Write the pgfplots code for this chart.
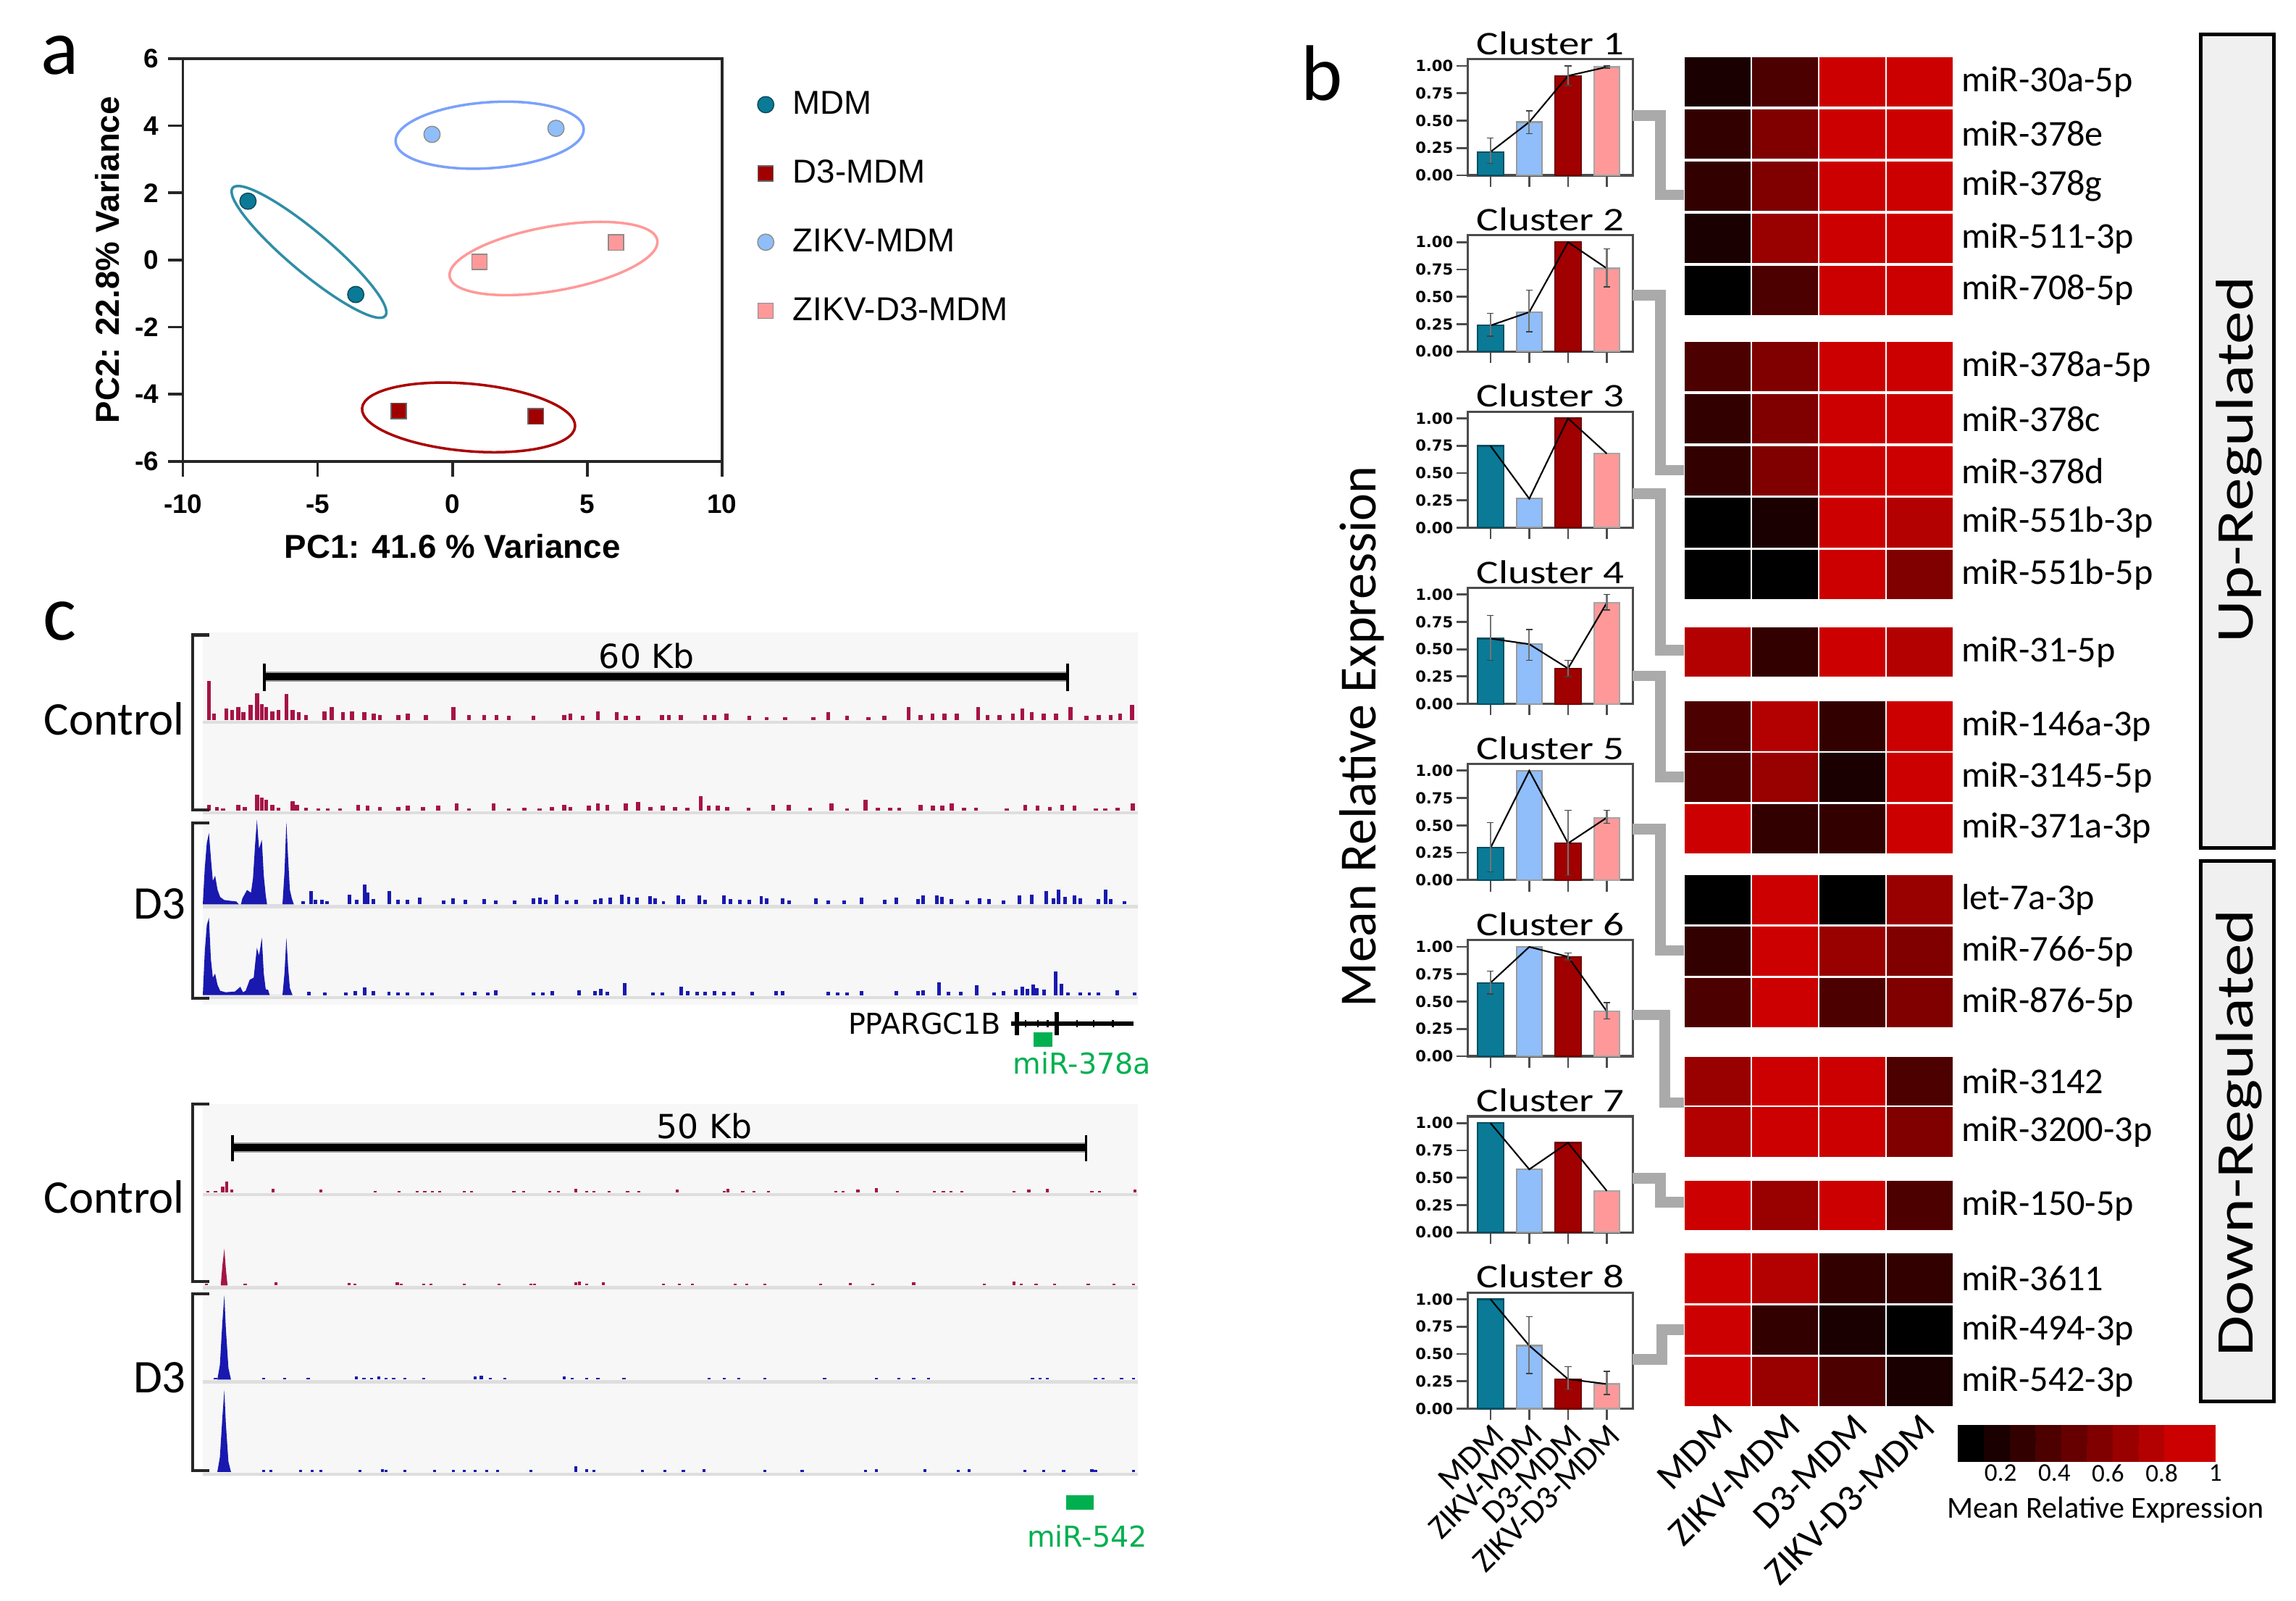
\documentclass[border=0pt]{standalone}
\usepackage{pgfplots}
\pgfplotsset{compat=1.18}
\usepackage{fontspec}
\setmainfont{Carlito}
\newfontfamily\arial{Liberation Sans}
\newfontfamily\dejavu{DejaVu Sans}
\newfontfamily\calw[FakeStretch=1.25]{Carlito}
\newcommand\fs[1]{\fontsize{#1}{#1}\selectfont}
\def\px{0.02022cm}

\definecolor{cM}{RGB}{10,122,150}
\definecolor{cZ}{RGB}{143,190,250}
\definecolor{cD}{RGB}{160,0,0}
\definecolor{cP}{RGB}{255,153,153}
\definecolor{ctrl}{RGB}{165,20,70}
\definecolor{dthree}{RGB}{25,25,175}
\definecolor{mirg}{RGB}{0,176,80}
\definecolor{conn}{RGB}{170,170,170}

\pgfplotsset{
  clus/.style={scale only axis, width=2.285cm, height=1.603cm, anchor=north west,
    xmin=0.41, xmax=4.68, ymin=0, ymax=1.062,
    xtick={1,2,3,4}, xticklabels={}, ytick={0,0.25,0.5,0.75,1},
    yticklabels={0.00,0.25,0.50,0.75,1.00},
    tick pos=left, tick align=outside, major tick length=4.5pt,
    axis line style={black!70, line width=0.9pt}, tick style={black!70, line width=0.8pt},
    yticklabel style={font=\dejavu\bfseries\fs{6}, inner sep=1pt},
    title style={font=\calw\fs{13}, inner sep=0pt, yshift=-4.5pt},
    clip=false},
  bM/.style={ybar, bar shift=0pt, bar width=0.665, fill=cM, draw=cM!65!black, line width=0.6pt},
  bZ/.style={ybar, bar shift=0pt, bar width=0.665, fill=cZ, draw=black!40, line width=0.6pt},
  bD/.style={ybar, bar shift=0pt, bar width=0.665, fill=cD, draw=cD!70!black, line width=0.6pt},
  bP/.style={ybar, bar shift=0pt, bar width=0.665, fill=cP, draw=black!35, line width=0.6pt},
  eline/.style={black, line width=0.6pt, mark=none, error bars/.cd, y dir=both, y explicit,
    error bar style={black!55, line width=0.6pt},
    error mark options={rotate=90, black!75, mark size=1.3pt}},
  trk/.style={scale only axis, width=12.878cm, height=1.213cm, anchor=south west,
    ymin=0, ymax=60, xmin=0, hide axis, clip=false},
  trkA/.style={trk, xmax=69.65},
  trkB/.style={trk, xmax=54.62},
  spC/.style={ycomb, draw=ctrl, line width=1.6pt},
  spc/.style={ycomb, draw=ctrl, line width=1.2pt},
  spD/.style={ycomb, draw=dthree, line width=1.4pt},
  spd/.style={ycomb, draw=dthree, line width=1.2pt},
}
\newcommand\bars[4]{%
  \addplot[bM] coordinates {(1,#1)};
  \addplot[bZ] coordinates {(2,#2)};
  \addplot[bD] coordinates {(3,#3)};
  \addplot[bP] coordinates {(4,#4)};}

\begin{document}
\begin{tikzpicture}
% backgrounds of the genome tracks
\begin{scope}[x=\px,y=-\px]
\path[use as bounding box] (0,0) rectangle (1568,1093);
\fill[black!3] (138.5,432) rectangle (777,686);
\fill[black!3] (138.5,754) rectangle (777,1008);
\foreach \b in {491.6,553.5,617.5,679.5,814.3,877.7,942,1005}
  \draw[black!13, line width=1.2pt] (138.5,\b+1.5) -- (777,\b+1.5);
\end{scope}

% ---------- panel a: PCA ----------
\begin{axis}[scale only axis, width=7.441cm, height=5.561cm,
  at={(125*\px,-315*\px)}, anchor=south west,
  xmin=-10, xmax=10, ymin=-6, ymax=6,
  xtick={-10,-5,0,5,10}, xticklabels={-10,-5,0,5,10},
  ytick={-6,-4,-2,0,2,4,6}, yticklabels={-6,-4,-2,0,2,4,6},
  tick pos=left, tick align=outside, major tick length=6pt,
  axis line style={black!85, line width=1pt}, tick style={black!85, line width=1pt},
  ticklabel style={font=\arial\bfseries\fs{10.5}},
  xticklabel style={yshift=-3.5pt},
  xlabel={PC1: 41.6 \% Variance}, ylabel={PC2: 22.8\% Variance},
  label style={font=\arial\bfseries\fs{13}},
  xlabel style={at={(axis description cs:0.5,-0.211)}, anchor=center},
  ylabel style={at={(axis description cs:-0.141,0.5)}, anchor=center},
  legend style={draw=none, fill=none, at={(1.051,0.945)}, anchor=north west,
    font=\arial\fs{13}, row sep=12.5pt,
    /tikz/every odd column/.append style={column sep=5.5pt}},
  legend cell align=left, clip=false]
\addplot[only marks, mark=*, mark size=3.2pt, mark options={fill=cM, draw=cM!60!black}]
  coordinates {(-7.59,1.75) (-3.59,-1.03)};
\addlegendentry{MDM}
\addplot[only marks, mark=square*, mark size=3pt, mark options={fill=cD, draw=black!60}]
  coordinates {(-2.0,-4.5) (3.09,-4.66)};
\addlegendentry{D3-MDM}
\addplot[only marks, mark=*, mark size=3.2pt, mark options={fill=cZ, draw=black!45}]
  coordinates {(-0.76,3.74) (3.84,3.92)};
\addlegendentry{ZIKV-MDM}
\addplot[only marks, mark=square*, mark size=3pt, mark options={fill=cP, draw=black!45}]
  coordinates {(1.0,-0.06) (6.07,0.52)};
\addlegendentry{ZIKV-D3-MDM}
\end{axis}

% ---------- panel b: cluster profiles ----------
\begin{axis}[clus, at={(1002.3*\px,-40.4*\px)}, title={Cluster 1}]
\bars{0.214}{0.487}{0.91}{0.99}
\addplot[eline] coordinates {(1,0.214) += (0,0.126) -= (0,0.104) (2,0.487) += (0,0.103) -= (0,0.107)
  (3,0.91) += (0,0.09) -= (0,0.09) (4,0.99) += (0,0.01) -= (0,0.01)};
\end{axis}
\begin{axis}[clus, at={(1002.3*\px,-160.7*\px)}, title={Cluster 2}]
\bars{0.238}{0.36}{1.0}{0.76}
\addplot[eline] coordinates {(1,0.238) += (0,0.112) -= (0,0.098) (2,0.36) += (0,0.2) -= (0,0.18)
  (3,1.0) (4,0.76) += (0,0.18) -= (0,0.17)};
\end{axis}
\begin{axis}[clus, at={(1002.3*\px,-281.0*\px)}, title={Cluster 3}]
\bars{0.748}{0.265}{1.0}{0.677}
\addplot[eline] coordinates {(1,0.748) (2,0.265) (3,1.0) (4,0.677)};
\end{axis}
\begin{axis}[clus, at={(1002.3*\px,-401.3*\px)}, title={Cluster 4}]
\bars{0.597}{0.546}{0.324}{0.924}
\addplot[eline] coordinates {(1,0.597) += (0,0.213) -= (0,0.197) (2,0.546) += (0,0.134) -= (0,0.146)
  (3,0.324) += (0,0.076) -= (0,0.074) (4,0.924) += (0,0.076) -= (0,0.064)};
\end{axis}
\begin{axis}[clus, at={(1002.3*\px,-521.6*\px)}, title={Cluster 5}]
\bars{0.294}{1.0}{0.336}{0.571}
\addplot[eline] coordinates {(1,0.294) += (0,0.231) -= (0,0.218) (2,1.0)
  (3,0.336) += (0,0.304) -= (0,0.296) (4,0.571) += (0,0.069) -= (0,0.051)};
\end{axis}
\begin{axis}[clus, at={(1002.3*\px,-641.9*\px)}, title={Cluster 6}]
\bars{0.672}{1.0}{0.91}{0.41}
\addplot[eline] coordinates {(1,0.672) += (0,0.108) -= (0,0.102) (2,1.0)
  (3,0.91) += (0,0.035) -= (0,0.03) (4,0.41) += (0,0.08) -= (0,0.07)};
\end{axis}
\begin{axis}[clus, at={(1002.3*\px,-762.2*\px)}, title={Cluster 7}]
\bars{1.0}{0.577}{0.82}{0.38}
\addplot[eline] coordinates {(1,1.0) (2,0.577) (3,0.82) (4,0.38)};
\end{axis}
\begin{axis}[clus, at={(1002.3*\px,-882.5*\px)}, title={Cluster 8},
  xticklabels={MDM,ZIKV-MDM,D3-MDM,ZIKV-D3-MDM},
  xticklabel style={rotate=45, anchor=north east, font=\fs{13}, inner sep=0.5pt}]
\bars{1.0}{0.576}{0.27}{0.225}
\addplot[eline] coordinates {(1,1.0) (2,0.576) += (0,0.264) -= (0,0.256)
  (3,0.27) += (0,0.115) -= (0,0.1) (4,0.225) += (0,0.115) -= (0,0.095)};
\end{axis}

% ---------- panel b: heatmap ----------
\begin{axis}[scale only axis, width=3.720cm, height=18.663cm,
  at={(1150*\px,-38*\px)}, anchor=north west,
  xmin=0, xmax=4, ymin=-961, ymax=-38,
  axis line style={draw=none}, major tick length=0pt,
  xtick={0.5,1.5,2.5,3.5}, xticklabels={MDM,ZIKV-MDM,D3-MDM,ZIKV-D3-MDM},
  xticklabel style={rotate=45, anchor=north east, font=\fs{15}, inner sep=1pt},
  ytick={-943.3,-908,-872.7,-823,-772.8,-738.3,-684.4,-649.3,-614.1,-565.6,-530.7,-495.8,
    -445.3,-392.3,-356.8,-321.4,-285.9,-250.4,-198.2,-162.6,-127,-91.4,-55.8},
  yticklabels={miR-542-3p,miR-494-3p,miR-3611,miR-150-5p,miR-3200-3p,miR-3142,miR-876-5p,
    miR-766-5p,let-7a-3p,miR-371a-3p,miR-3145-5p,miR-146a-3p,miR-31-5p,miR-551b-5p,
    miR-551b-3p,miR-378d,miR-378c,miR-378a-5p,miR-708-5p,miR-511-3p,miR-378g,miR-378e,miR-30a-5p},
  yticklabel pos=right,
  yticklabel style={anchor=west, font=\fs{14.3}, inner sep=0pt, xshift=3pt},
  colormap={hm}{rgb255=(0,0,0) rgb255=(26,0,0) rgb255=(51,0,0) rgb255=(77,0,0)
    rgb255=(102,0,0) rgb255=(128,0,0) rgb255=(153,0,0) rgb255=(179,0,0)
    rgb255=(204,0,0) rgb255=(204,0,0)},
  colormap access=piecewise constant,
  point meta min=0.04, point meta max=1,
  colorbar horizontal,
  colorbar style={at={(parent axis.south east)}, anchor=north west, xshift=1.7pt, yshift=1.7pt,
    scale only axis, width=3.559cm, height=0.506cm,
    xtick={0.2,0.4,0.6,0.8,1}, xticklabels={0.2,0.4,0.6,0.8,1}, xticklabel pos=lower,
    xticklabel style={font=\fs{10}, inner sep=1pt}, major tick length=0pt,
    axis line style={draw=none}},
  clip=false]
\addplot[scatter, only marks, mark=square*, mark size=10pt, scatter src=explicit,
  scatter/use mapped color={draw=white, fill=mapped color},
  mark options={xscale=1.32, line width=0.6pt}]
  table[meta=v] {
x y v
0.5 -55.8 0.2
1.5 -55.8 0.413
2.5 -55.8 0.84
3.5 -55.8 0.947
0.5 -91.4 0.307
1.5 -91.4 0.52
2.5 -91.4 0.947
3.5 -91.4 0.947
0.5 -127 0.307
1.5 -127 0.52
2.5 -127 0.947
3.5 -127 0.947
0.5 -162.6 0.2
1.5 -162.6 0.627
2.5 -162.6 0.947
3.5 -162.6 0.947
0.5 -198.2 0.093
1.5 -198.2 0.413
2.5 -198.2 0.84
3.5 -198.2 0.947
0.5 -250.4 0.413
1.5 -250.4 0.52
2.5 -250.4 0.947
3.5 -250.4 0.84
0.5 -285.9 0.307
1.5 -285.9 0.52
2.5 -285.9 0.947
3.5 -285.9 0.84
0.5 -321.4 0.307
1.5 -321.4 0.52
2.5 -321.4 0.947
3.5 -321.4 0.947
0.5 -356.8 0.093
1.5 -356.8 0.2
2.5 -356.8 0.947
3.5 -356.8 0.733
0.5 -392.3 0.093
1.5 -392.3 0.093
2.5 -392.3 0.947
3.5 -392.3 0.52
0.5 -445.3 0.733
1.5 -445.3 0.307
2.5 -445.3 0.947
3.5 -445.3 0.733
0.5 -495.8 0.413
1.5 -495.8 0.733
2.5 -495.8 0.307
3.5 -495.8 0.947
0.5 -530.7 0.413
1.5 -530.7 0.627
2.5 -530.7 0.2
3.5 -530.7 0.947
0.5 -565.6 0.947
1.5 -565.6 0.307
2.5 -565.6 0.307
3.5 -565.6 0.84
0.5 -614.1 0.093
1.5 -614.1 0.947
2.5 -614.1 0.093
3.5 -614.1 0.627
0.5 -649.3 0.307
1.5 -649.3 0.947
2.5 -649.3 0.627
3.5 -649.3 0.52
0.5 -684.4 0.413
1.5 -684.4 0.947
2.5 -684.4 0.413
3.5 -684.4 0.52
0.5 -738.3 0.627
1.5 -738.3 0.947
2.5 -738.3 0.947
3.5 -738.3 0.413
0.5 -772.8 0.733
1.5 -772.8 0.947
2.5 -772.8 0.84
3.5 -772.8 0.52
0.5 -823 0.947
1.5 -823 0.627
2.5 -823 0.84
3.5 -823 0.413
0.5 -872.7 0.947
1.5 -872.7 0.733
2.5 -872.7 0.307
3.5 -872.7 0.307
0.5 -908 0.947
1.5 -908 0.307
2.5 -908 0.2
3.5 -908 0.093
0.5 -943.3 0.947
1.5 -943.3 0.627
2.5 -943.3 0.413
3.5 -943.3 0.2
};
\end{axis}

% ---------- panel c: locus 1 (60 kb) ----------
\begin{axis}[trkA, at={(138.5*\px,-491.6*\px)}]
\addplot[spC] coordinates {(0.46,26.7)(0.83,4.4)(1.75,7.7)(2.2,6.9)(2.66,8.6)(3.03,5.3)(3.58,10.2)
 (4.04,18)(4.41,11)(4.73,8.6)(5.19,6)(5.65,6.9)(6.24,17.6)(6.7,6.9)(7.16,5.3)(7.71,3.6)(9.09,6)
 (9.64,8.6)(10.47,5.3)(11.15,6)(12.07,5.3)(12.76,4.4)(13.22,3.6)(14.6,3.6)(15.29,4.4)(16.66,3.6)
 (18.73,8.6)(19.88,3.6)(21.02,3.6)(21.94,3.6)(22.86,2.8)(24.7,2.8)(26.99,3.6)(27.45,4.4)(28.37,2.8)
 (29.5,6)(30.9,5.3)(31.6,2.8)(32.5,2.8)(34.3,3.6)(34.8,3.6)(35.7,3.6)(37.5,3.6)(38.2,3.6)(39.1,4.4)
 (40.8,2.8)(42.1,2)(43.5,2)(45.6,2)(46.7,5.3)(48.1,2.8)(49.7,2)(50.9,2.8)(52.7,8.6)(53.6,3.6)
 (54.5,4.4)(55.4,4.4)(56.3,4.4)(57.9,8.6)(58.6,3.6)(59.5,3.6)(60.5,4.4)(61.2,7.7)(61.9,5.3)
 (62.8,4.4)(63.7,4.4)(64.8,8.6)(66,2.8)(66.9,3.6)(67.8,3.6)(68.5,4.4)(69.4,10.2)};
\end{axis}
\begin{axis}[trkA, at={(138.5*\px,-553.5*\px)}]
\addplot[spC] coordinates {(0.46,4.1)(1.06,2.5)(1.52,1.6)(2.66,4.1)(3.12,2.5)(4.04,10.7)(4.41,9.1)
 (4.73,7.4)(5.19,4.1)(5.65,2)(6.7,6.6)(7.02,4.1)(7.71,2)(8.63,1.6)(9.32,1.6)(10.24,1.6)(11.61,4.1)
 (12.3,3.3)(13.22,2.5)(14.6,2.5)(15.29,3.3)(16.43,2.5)(17.58,3.3)(18.96,5)(19.88,1.6)(21.71,5)
 (22.86,1.6)(24.01,2)(25.15,1.6)(26.07,2.5)(26.99,4.1)(27.45,2.5)(28.83,3.3)(29.51,5)(30.2,4.1)
 (31.58,5)(32.5,5.8)(33.42,2.5)(34.33,3.3)(35.25,2.5)(36.17,2)(37.18,9.9)(37.78,3.3)(38.47,3.3)
 (39.15,2.5)(40.76,2)(42.6,4.1)(43.74,4.1)(45.35,2)(46.96,5)(48.1,1.6)(49.48,7.4)(50.4,2)(51.32,2)
 (52.0,2)(53.61,4.1)(54.53,3.3)(55.22,3.3)(55.91,5)(56.83,2)(57.74,2)(60.04,1.6)(61.42,4.1)
 (62.33,3.3)(63.25,2.5)(64.17,4.1)(65.09,3.3)(66.69,1.6)(67.38,1.6)(68.3,2)(69.45,5)};
\end{axis}
\begin{axis}[trkA, at={(138.5*\px,-617.5*\px)}]
\addplot[fill=dthree, draw=none] coordinates {(0,0)(0.15,25)(0.3,42)(0.46,48.7)(0.6,32)(0.75,16)
 (0.92,19.6)(1.1,10)(1.3,5)(1.6,3)(2.0,2.5)(2.5,2)(2.7,0)(2.85,0)(2.95,4)(3.3,9.8)(3.6,8)(3.75,18)
 (3.9,40)(4.04,57.8)(4.2,38)(4.41,44)(4.55,20)(4.7,6)(4.8,0)(5.95,0)(6.1,22)(6.24,56.3)(6.38,30)
 (6.5,10)(6.65,4)(6.8,0)};
\addplot[spD] coordinates {(7.5,2.2)(8.08,9)(8.4,3)(8.9,3)(9.3,2.2)(10.93,6.4)(11.48,3)(12.07,13.5)
 (12.3,8)(12.76,3.9)(13.91,9)(14.6,3)(15.3,3)(16.2,4.7)(18.0,2.5)(18.7,4)(19.6,3)(21.0,3.5)(21.9,2.5)
 (23.3,2.5)(24.7,4)(25.2,4.5)(25.6,3)(26.4,6.4)(27.2,2.5)(27.9,3)(29.3,3)(29.7,4)(30.4,4.5)(31.3,6.4)
 (31.8,5)(32.4,4.5)(33.4,5.6)(33.8,4)(34.4,2)(35.5,6)(35.9,3.5)(37.1,6)(37.5,3)(38.9,6)(39.4,3.5)
 (40.1,3)(40.8,3)(41.7,5.5)(42.1,4)(43.3,4)(43.8,2.5)(45.8,4)(46.7,2.5)(47.9,2.5)(49.2,4.5)(50.9,3)
 (51.8,4.5)(53.4,3.5)(53.8,6)(54.8,6)(55.2,5)(55.9,3.5)(57.1,2.5)(58.0,4)(58.7,3.5)(59.8,2.5)(61.0,6)
 (61.9,6.5)(63.0,9)(63.5,4)(63.9,10)(64.4,5)(65.1,6)(65.5,4)(66.9,3.5)(67.4,10)(67.8,3.5)(68.8,2)};
\end{axis}
\begin{axis}[trkA, at={(138.5*\px,-679.5*\px)}]
\addplot[fill=dthree, draw=none] coordinates {(0,0)(0.15,30)(0.3,48)(0.46,52.7)(0.6,25)(0.75,12)
 (0.92,14.7)(1.1,7)(1.3,3)(1.7,2)(2.4,2.5)(2.8,5.7)(3.0,2)(3.2,3)(3.5,10.5)(3.8,12)(3.95,25)
 (4.04,32.4)(4.2,27)(4.41,39.2)(4.55,15)(4.7,4)(4.87,3.7)(5.0,0)(5.95,0)(6.1,15)(6.24,39.2)
 (6.38,18)(6.5,5)(6.7,0)};
\addplot[spD] coordinates {(7.94,2.4)(9.09,2)(10.7,2)(11.4,3)(12.07,5.4)(12.76,3)(13.9,2.5)(14.6,2)
 (15.3,2)(16.4,2)(17.1,2)(19.4,2)(20.3,2.5)(21.3,2)(21.9,3.5)(24.7,2)(25.4,2)(26.1,3)(28.1,3.5)
 (29.3,3)(29.7,4.5)(30.2,2.5)(31.5,8.5)(33.6,2)(34.3,2)(35.7,5.7)(36.2,3)(36.9,2.5)(37.5,2.5)(38.2,3)
 (38.9,2.5)(39.6,2.5)(41.0,2.5)(42.8,3)(43.3,3)(46.7,2.5)(47.4,2)(48.1,2)(49.2,3)(51.8,3)(53.4,3)
 (53.8,3.5)(55.0,8.8)(55.7,2.5)(56.6,2.5)(57.8,6.8)(59.1,2)(59.8,3)(60.7,4)(61.2,5.7)(61.6,4.5)
 (62.0,7.1)(62.3,5)(62.8,4)(63.7,16.4)(64.1,8)(64.6,2)(65.5,2)(66.2,2)(66.9,2)(68.3,3.5)(69.6,2)};
\end{axis}

% ---------- panel c: locus 2 (50 kb) ----------
\begin{axis}[trkB, at={(138.5*\px,-814.3*\px)}]
\addplot[spc] coordinates {(0.3,1.3)(0.74,1.3)(1.17,4)(1.39,7.7)(1.69,2)(4.13,2.5)(6.91,2)(10.09,1.3)
 (11.48,1.3)(12.57,1.3)(13.0,1.3)(13.44,1.3)(13.87,1.3)(15.31,1.3)(15.74,1.3)(18.22,1.3)(18.79,1.3)
 (20.31,1.3)(20.83,1.3)(21.83,2.5)(22.49,1.3)(22.92,1.3)(23.79,1.3)(24.88,1.3)(25.53,1.3)(27.79,2)
 (30.53,1.3)(30.75,2.5)(31.62,1.3)(32.27,1.3)(33.14,1.3)(37.06,1.3)(37.49,1.3)(38.36,2)(39.45,3)
 (40.67,1.3)(42.84,1.3)(43.37,1.3)(43.8,1.3)(44.45,1.3)(47.5,1.3)(48.37,2)(49.46,2.5)(52.06,1.3)
 (52.5,1.3)(54.6,2)};
\end{axis}
\begin{axis}[trkB, at={(138.5*\px,-877.7*\px)}]
\addplot[fill=ctrl, draw=none] coordinates {(1.05,0)(1.15,14)(1.26,25)(1.36,10)(1.45,0)};
\addplot[spc] coordinates {(0.21,1.3)(2.48,1.3)(4.3,2)(8.57,1.5)(8.91,1.3)(11.39,2)(11.61,1.3)
 (12.92,1.3)(13.35,1.3)(15.31,1.3)(17.35,1.3)(19.22,1.3)(19.44,1.3)(21.83,2)(22.05,2.5)(22.49,1.3)
 (23.44,2)(26.97,1.3)(27.92,1.3)(28.66,1.3)(31.19,1.3)(31.84,1.3)(32.93,1.3)(36.19,1.3)(37.93,1.5)
 (39.23,1.3)(41.63,2)(45.76,1.3)(47.5,2.5)(47.93,1.3)(48.8,1.3)(49.89,1.3)(51.85,1.3)(53.37,1.3)
 (54.5,1.3)};
\end{axis}
\begin{axis}[trkB, at={(138.5*\px,-942*\px)}]
\addplot[fill=dthree, draw=none] coordinates {(0.85,0)(1.0,10)(1.15,40)(1.26,57.5)(1.35,35)(1.5,8)(1.65,0)};
\addplot[spd] coordinates {(0.74,1.3)(3.56,1.3)(4.78,1.3)(6.17,1.3)(9.0,2)(9.44,1.3)(9.87,1.3)
 (10.31,2)(10.74,1.3)(11.18,1.3)(11.83,1.3)(12.92,1.3)(15.96,2)(16.31,2.5)(16.83,1.3)(17.7,1.3)
 (21.18,2)(21.62,1.3)(22.49,1.3)(23.14,1.3)(24.66,1.3)(29.66,1.3)(30.53,1.3)(31.4,1.3)(32.93,1.3)
 (36.41,1.3)(39.45,1.3)(40.76,1.3)(41.63,1.3)(42.5,1.3)(48.59,1.3)(49.02,1.3)(49.46,1.3)(52.28,1.3)
 (52.72,1.3)(53.8,1.3)(54.5,1.3)};
\end{axis}
\begin{axis}[trkB, at={(138.5*\px,-1005*\px)}]
\addplot[fill=dthree, draw=none] coordinates {(0.85,0)(1.0,10)(1.15,38)(1.26,55.7)(1.35,33)(1.5,7)(1.65,0)};
\addplot[spd] coordinates {(3.56,1.3)(4.0,1.3)(5.74,1.3)(6.39,1.3)(6.91,1.3)(9.22,1.3)(10.52,2)
 (10.74,1.3)(11.83,1.3)(13.57,1.3)(14.66,1.3)(15.31,1.3)(15.96,1.3)(16.61,1.3)(17.27,1.3)(19.22,1.3)
 (21.83,4)(22.49,2)(22.92,1.3)(25.75,1.3)(27.05,1.3)(28.14,1.3)(29.36,2)(32.93,1.3)(35.1,1.3)
 (38.8,1.3)(39.45,2)(42.28,2)(44.24,1.3)(44.89,2)(48.15,1.3)(49.24,1.3)(50.41,1.3)(52.06,2)
 (52.28,1.3)(54.5,1.3)};
\end{axis}

% ---------- annotations ----------
\begin{scope}[x=\px,y=-\px]
% panel letters
\node[font=\fs{31}] at (41,38) {a};
\node[font=\fs{31}] at (903,50) {b};
\node[font=\fs{31}] at (41,424) {c};
% PCA group ellipses
\draw[cM!85, line width=1pt, rotate around={-40:(211,172)}] (211,172) ellipse [x radius=68, y radius=14];
\draw[cZ!85!blue, line width=1pt, rotate around={4:(334.4,92.3)}] (334.4,92.3) ellipse [x radius=64.4, y radius=22.5];
\draw[cP, line width=1pt, rotate around={10:(378,176.5)}] (378,176.5) ellipse [x radius=72, y radius=22];
\draw[cD!90!red, line width=1pt, rotate around={-5:(320,285)}] (320,285) ellipse [x radius=73, y radius=23];
% panel b texts and connectors
\node[font=\fs{20.5}, rotate=90] at (930,503) {Mean Relative Expression};
\foreach \ya/\xv/\yb in {78.8/1134/133, 201.6/1134/321, 337/1134/444, 461.5/1134/530.5,
  566/1134/649, 693/1137/752.8, 804.7/1134/821, 928/1135/908}
  \draw[conn, line width=4.2pt] (1115,\ya) -- (\xv,\ya) -- (\xv,\yb) -- (1150,\yb);
\draw[line width=1.5pt, fill=black!6] (1503,23.5) rectangle (1553,579);
\node[font=\calw\fs{20.8}, rotate=90] at (1529,314) {Up-Regulated};
\draw[line width=1.5pt, fill=black!6] (1503,588) rectangle (1553,957);
\node[font=\calw\fs{20.8}, rotate=90] at (1529,773.5) {Down-Regulated};
\node[font=\fs{12}] at (1438,1031) {Mean Relative Expression};
% panel c labels
\node[font=\fs{18.4}] at (78,491) {Control};
\node[font=\fs{18.4}] at (109,617) {D3};
\node[font=\fs{18.4}] at (78,817.5) {Control};
\node[font=\fs{18.4}] at (109,940.7) {D3};
\draw[line width=1.2pt, black!85] (142.8,433.5) -- (131.6,433.5) -- (131.6,553) -- (142.8,553);
\draw[line width=1.2pt, black!85] (142.8,562) -- (131.6,562) -- (131.6,681.7) -- (142.8,681.7);
\draw[line width=1.2pt, black!85] (142.8,754) -- (131.6,754) -- (131.6,875) -- (142.8,875);
\draw[line width=1.2pt, black!85] (142.8,883.6) -- (131.6,883.6) -- (131.6,1004) -- (142.8,1004);
% scale bars
\draw[black!40, line width=4.2pt] (180.5,462) -- (729.2,462);
\draw[black, line width=2.8pt] (180.5,462) -- (729.2,462);
\draw[black, line width=1pt] (180.5,453) -- (180.5,472) (729.2,453) -- (729.2,472);
\node[font=\dejavu\fs{13}] at (441.6,448) {60 Kb};
\draw[black!40, line width=4.2pt] (158.8,783.5) -- (741.6,783.5);
\draw[black, line width=2.8pt] (158.8,783.5) -- (741.6,783.5);
\draw[black, line width=1pt] (158.8,775) -- (158.8,793) (741.6,775) -- (741.6,793);
\node[font=\dejavu\fs{13}] at (481,769) {50 Kb};
% gene model
\node[font=\dejavu\fs{11.3}, anchor=east, inner sep=0pt] at (684,699) {PPARGC1B};
\draw[line width=1.6pt] (690.7,699) -- (774,699);
\draw[line width=1.6pt] (694.4,691) -- (694.4,707) (721.6,691) -- (721.6,707);
\foreach \t in {700.6,708.8,715.5,735.3,746.8,760}
  \draw[line width=0.6pt] (\t,696.5) -- (\t,701.5);
\fill[mirg] (705.8,704.8) rectangle (718.7,714.7);
\node[font=\dejavu\fs{11.3}, text=mirg] at (739,726) {miR-378a};
\fill[mirg] (728,1021) rectangle (747,1031);
\node[font=\dejavu\fs{11.3}, text=mirg] at (742.5,1049) {miR-542};
\end{scope}
\end{tikzpicture}
\end{document}
